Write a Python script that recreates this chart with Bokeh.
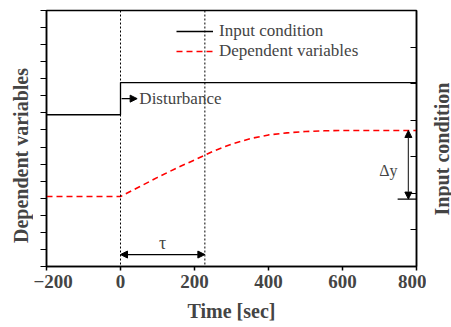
import math
from bokeh.plotting import figure
from bokeh.layouts import row
from bokeh.models import (Range1d, LinearAxis, FixedTicker, Span, Arrow, NormalHead,
                          Label, Legend, LegendItem)
from bokeh.embed import file_html
from bokeh.resources import INLINE

# ---- data ----
input_t = [-200, 0, 0, 800]
input_v = [4.15, 4.15, 5.03, 5.03]

dep_t = [-200, 0, 50, 100, 150, 200, 250, 300, 350, 400, 450, 500, 550, 600, 700, 800]
dep_v = [4.10, 4.10, 4.66, 5.22, 5.75, 6.24, 6.75, 7.17, 7.49, 7.71, 7.83, 7.91, 7.95, 7.97, 7.97, 7.97]

disturb_t = 0
tau_end_t = 228
tau_level = 0.70
dy_x = 778
dy_top = 7.97
dy_base = 3.95
x_ticks = [-200, 0, 200, 400, 600, 800]
left_ticks = list(range(16))
right_ticks = list(range(8))

SERIF = "Liberation Serif"
TOTAL_H = 327

p = figure(frame_width=370, frame_height=256, x_range=Range1d(-200, 800), y_range=Range1d(0, 15),
           output_backend="svg", toolbar_location=None,
           min_border_left=13, min_border_right=10, min_border_top=10, min_border_bottom=61)
p.extra_y_ranges = {"input": Range1d(0, 7)}
p.grid.visible = False
p.outline_line_color = "black"
p.outline_line_width = 1.5
p.background_fill_color = "white"
p.border_fill_color = "white"

# x axis
xa = p.xaxis[0]
xa.ticker = FixedTicker(ticks=x_ticks, minor_ticks=[])
xa.axis_label = "Time [sec]"
xa.axis_label_text_font = SERIF
xa.axis_label_text_font_style = "bold"
xa.axis_label_text_font_size = "20px"
xa.major_label_text_font = SERIF
xa.major_label_text_font_style = "bold"
xa.major_label_text_font_size = "19px"
xa.major_tick_in = 0
xa.major_tick_out = 4
xa.axis_line_width = 1.5
xa.major_tick_line_width = 1.5
xa.major_label_standoff = 4
xa.axis_label_standoff = 9

# left axis (ticks only, no numbers)
ya = p.yaxis[0]
ya.ticker = FixedTicker(ticks=left_ticks, minor_ticks=[])
ya.major_label_overrides = {t: "" for t in left_ticks}
ya.major_label_text_color = None
ya.major_label_standoff = 0
ya.major_tick_in = 0
ya.major_tick_out = 6
ya.axis_line_width = 1.5
ya.major_tick_line_width = 1.2

# right axis (ticks only, no numbers)
ra = LinearAxis(y_range_name="input", ticker=FixedTicker(ticks=right_ticks, minor_ticks=[]))
ra.major_label_overrides = {t: "" for t in right_ticks}
ra.major_label_text_color = None
ra.major_label_standoff = 0
ra.major_tick_in = 6
ra.major_tick_out = 0
ra.axis_line_width = 1.5
ra.major_tick_line_width = 1.2
p.add_layout(ra, "right")

# vertical dotted lines
p.add_layout(Span(location=disturb_t, dimension="height", line_color="black", line_width=1, line_dash="2 2"))
p.add_layout(Span(location=tau_end_t, dimension="height", line_color="black", line_width=1, line_dash="2 2"))

# series
r_in = p.line(input_t, input_v, y_range_name="input", line_color="black", line_width=1.3)
r_dep = p.line(dep_t, dep_v, line_color="red", line_width=1.6, line_dash="6 4")

# legend
leg = Legend(items=[LegendItem(label="Input condition", renderers=[r_in]),
                    LegendItem(label="Dependent variables", renderers=[r_dep])],
             location=(130, 205), background_fill_alpha=0, border_line_alpha=0,
             label_text_font=SERIF, label_text_font_size="17px",
             glyph_width=37, glyph_height=20, label_height=20, spacing=-2, padding=0,
             margin=0, label_standoff=6)
p.add_layout(leg)

# disturbance arrow + label
p.add_layout(Arrow(end=NormalHead(size=7, fill_color="black", line_color="black"),
                   x_start=disturb_t + 3, y_start=4.59, x_end=45, y_end=4.59,
                   y_range_name="input", line_color="black", line_width=1.2))
p.add_layout(Label(x=51, y=4.59, y_range_name="input", text="Disturbance", text_font=SERIF,
                   text_font_size="17px", text_baseline="middle", text_align="left"))

# tau arrow + label
p.add_layout(Arrow(start=NormalHead(size=7, fill_color="black", line_color="black"),
                   end=NormalHead(size=7, fill_color="black", line_color="black"),
                   x_start=disturb_t, y_start=tau_level, x_end=tau_end_t, y_end=tau_level,
                   line_color="black", line_width=1.2))
p.add_layout(Label(x=(disturb_t + tau_end_t) / 2, y=tau_level + 0.65, text="τ", text_font=SERIF,
                   text_font_size="18px", text_baseline="middle", text_align="center"))

# delta y arrow + base line + label
p.add_layout(Arrow(start=NormalHead(size=7, fill_color="black", line_color="black"),
                   end=NormalHead(size=7, fill_color="black", line_color="black"),
                   x_start=dy_x, y_start=dy_base, x_end=dy_x, y_end=dy_top,
                   line_color="#333333", line_width=1.2))
p.line([749, 800], [dy_base, dy_base], line_color="black", line_width=1.2)
p.add_layout(Label(x=724, y=5.62, text="Δy", text_font=SERIF,
                   text_font_size="16px", text_baseline="middle", text_align="center"))


def title_strip(width, text, sx, sy):
    # narrow companion figure; in a row its frame is aligned with the main frame
    f = figure(width=width, height=TOTAL_H, x_range=Range1d(0, 1), y_range=Range1d(0, 1),
               output_backend="svg", toolbar_location=None,
               x_axis_location=None, y_axis_location=None, min_border=0)
    f.grid.visible = False
    f.outline_line_color = None
    f.border_fill_color = "white"
    f.background_fill_color = "white"
    f.add_layout(Label(x=sx, y=sy, x_units="screen", y_units="screen", text=text,
                       angle=math.pi / 2, text_font=SERIF, text_font_style="bold",
                       text_font_size="20px", text_align="center", text_baseline="middle"))
    return f


left_strip = title_strip(33, "Dependent variables", 20.5, 111)
right_strip = title_strip(25, "Input condition", 15, 117.5)

layout = row(left_strip, p, right_strip, spacing=0)

open("out.html", "w").write(file_html(layout, INLINE))
